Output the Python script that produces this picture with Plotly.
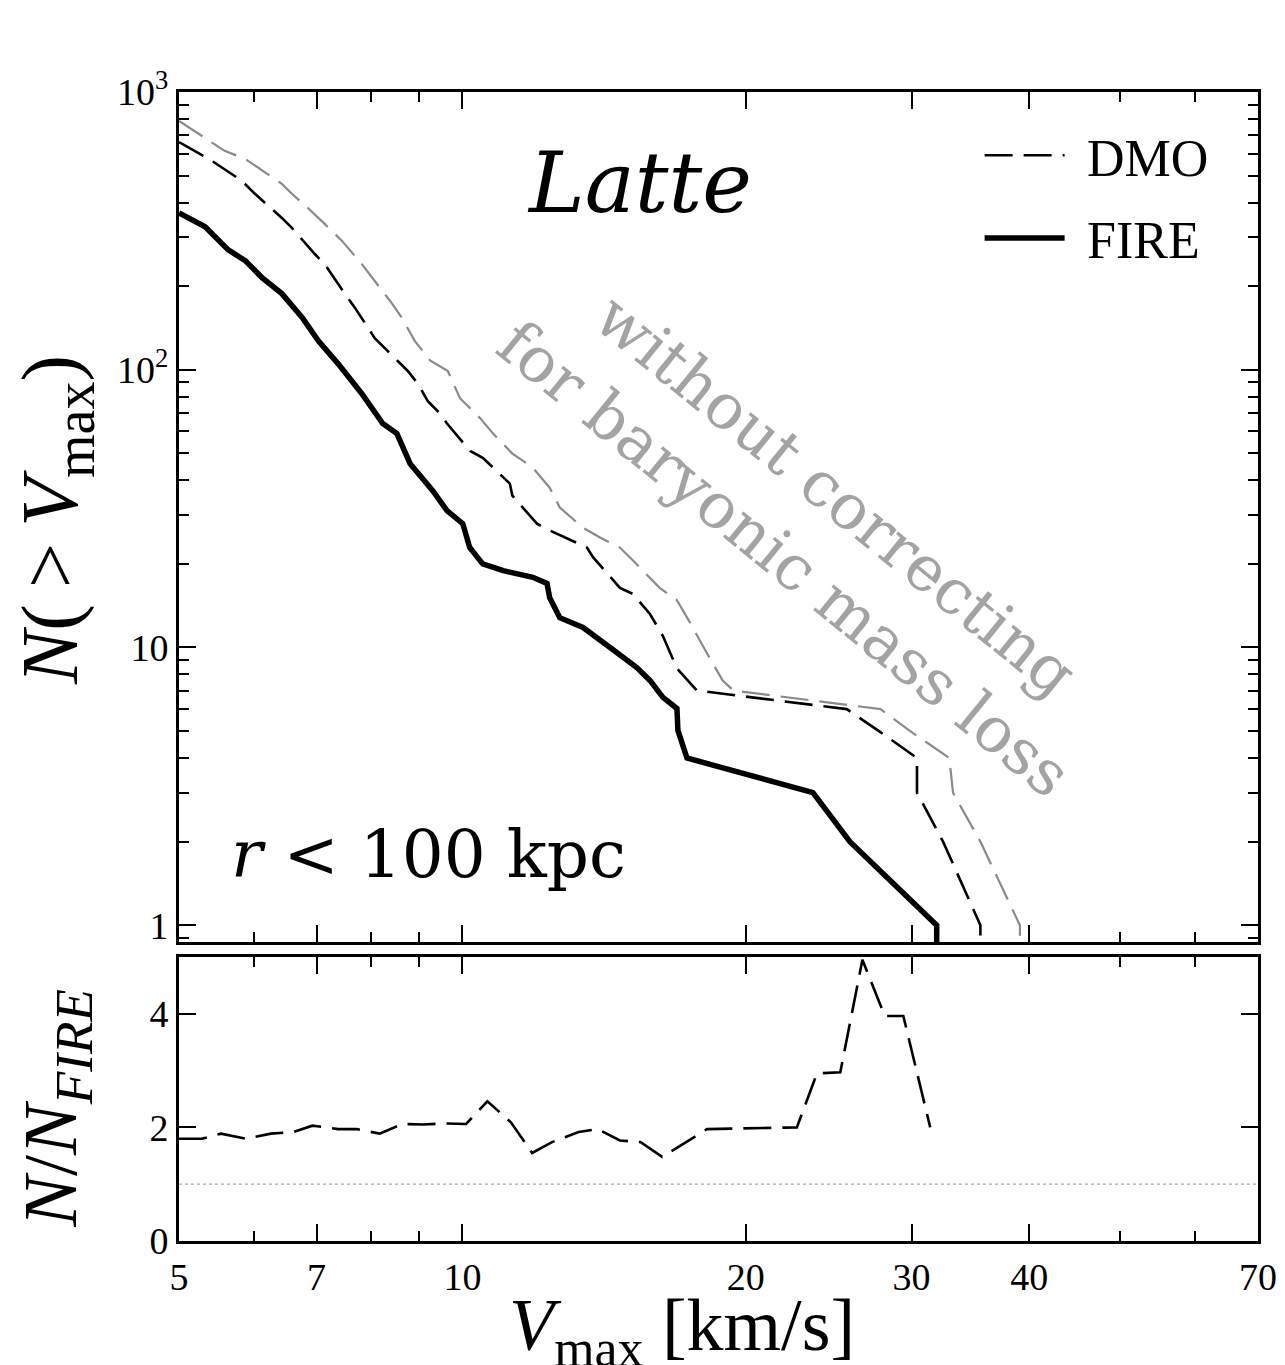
import numpy as np
import plotly.graph_objects as go

# ---------------- data ----------------
# FIRE (baryonic) cumulative Vmax function, r < 100 kpc
fire_v = [5.0, 5.33, 5.64, 5.88, 6.13, 6.43, 6.76, 7.03, 7.38, 7.82, 8.23, 8.52, 8.80,
          9.30, 9.63, 10.01, 10.18, 10.51, 11.05, 11.88, 12.30, 12.38, 12.69, 13.43,
          14.35, 15.32, 15.82, 16.33, 16.9, 16.94, 17.32, 23.57, 25.8, 31.9, 31.9]
fire_n = [367, 327, 270, 247, 214, 188, 154, 127, 105, 82, 64, 58.9, 45.9,
          36.7, 31.1, 27.9, 22.9, 20.0, 18.9, 17.9, 17.0, 15.1, 12.8, 11.8,
          10.0, 8.47, 7.61, 6.61, 6.03, 5.03, 4.0, 3.0, 2.0, 1.0, 0]

# DMO cumulative Vmax function
dmo_v = [5.0, 5.42, 5.83, 6.02, 6.43, 6.59, 6.97, 7.14, 7.50, 7.69, 8.07, 8.27, 8.75,
         8.97, 9.19, 9.47, 9.63, 10.19, 10.51, 11.23, 11.3, 12.0, 12.38, 13.56, 13.77,
         14.70, 15.17, 15.82, 16.33, 16.9, 17.74, 25.6, 27.7, 30.4, 30.4, 32.4, 35.5, 35.5]
dmo_n = [660, 565, 479, 430, 352, 324, 261, 240, 188, 167, 130, 120, 99,
         89, 77, 69.5, 64, 51, 48.2, 38.9, 35.2, 27.9, 26.4, 22.9, 21.1,
         16.4, 15.6, 13.2, 11.0, 8.4, 7.0, 6.0, 5.0, 4.0, 3.0, 2.0, 1.0, 0]

# DMO without correcting for baryonic mass loss
raw_v = [5.0, 5.33, 5.59, 5.88, 6.13, 6.43, 6.59, 6.85, 7.14, 7.45, 7.82, 8.07, 8.42,
         8.62, 8.90, 9.24, 9.65, 9.94, 10.44, 10.78, 11.3, 11.88, 12.38, 12.69, 13.43,
         14.0, 14.70, 15.17, 15.55, 16.2, 16.9, 17.4, 18.2, 18.9, 19.4, 27.8, 29.9,
         32.9, 33.2, 35.5, 39.1, 39.1]
raw_n = [787, 683, 614, 574, 520, 467, 430, 383, 335, 291, 240, 209, 173,
         154, 127, 108, 99, 79, 67, 58.9, 49.9, 44.4, 37.6, 31.9, 27.0,
         24.9, 22.9, 20.6, 18.9, 16.4, 14.8, 12.5, 9.5, 7.6, 7.0, 6.0, 5.0,
         4.0, 3.0, 2.0, 1.0, 0]

# Ratio N_DMO / N_FIRE
ratio_v = [5.0, 5.29, 5.54, 5.89, 6.26, 6.62, 6.93, 7.38, 7.72, 8.17, 8.63, 9.09, 9.54,
           10.09, 10.63, 11.26, 11.86, 12.45, 13.29, 13.93, 14.7, 15.47, 16.3, 18.19,
           22.66, 23.8, 25.2, 26.6, 28.1, 29.4, 31.4]
ratio_r = [1.80, 1.80, 1.89, 1.80, 1.89, 1.92, 2.03, 1.97, 1.97, 1.89, 2.06, 2.05, 2.07,
           2.06, 2.46, 2.09, 1.55, 1.74, 1.92, 1.97, 1.77, 1.74, 1.48, 1.97,
           2.0, 2.95, 2.97, 4.95, 3.96, 3.96, 2.0]

x_tickvals = [5, 7, 10, 20, 30, 40, 70]
x_ticktext = ["5", "7", "10", "20", "30", "40", "70"]
x_minor = [6, 8, 9, 50, 60]
y_tickvals = [1, 10, 100, 1000]
y_ticktext = ["1", "10", "10<sup>2</sup>", "10<sup>3</sup>"]
y_minor = [0.9] + [m * d for d in (1, 10, 100) for m in range(2, 10)]
r_tickvals = [0, 2, 4]

# ---------------- styling ----------------
FLOOR = 1e-2  # N = 0 drawn below the log axis (clipped)


def floor(a):
    a = np.asarray(a, dtype=float)
    return np.where(a > 0, a, FLOOR)


SERIF = "Liberation Serif, Times New Roman, serif"
ALT = "DejaVu Serif, serif"
TICKF = dict(family=SERIF, size=38, color="black")
GRAY_LINE = "#8a8a8a"
GRAY_TEXT = "#a3a3a3"
DASH = "28px,11px"

fig = go.Figure()

fig.add_trace(go.Scatter(x=raw_v, y=floor(raw_n), xaxis="x2", yaxis="y2", mode="lines",
                         line=dict(color=GRAY_LINE, width=2.2, dash=DASH),
                         showlegend=False, hoverinfo="skip"))
fig.add_trace(go.Scatter(x=dmo_v, y=floor(dmo_n), xaxis="x2", yaxis="y2", mode="lines",
                         name="\u2004DMO", legendgroup="a",
                         line=dict(color="black", width=2.6, dash=DASH)))
fig.add_trace(go.Scatter(x=fire_v, y=floor(fire_n), xaxis="x2", yaxis="y2", mode="lines",
                         name="\u2004FIRE", legendgroup="b",
                         line=dict(color="black", width=5.5)))
fig.add_trace(go.Scatter(x=ratio_v, y=ratio_r, xaxis="x", yaxis="y", mode="lines",
                         line=dict(color="black", width=2.6, dash=DASH),
                         showlegend=False))

axis_common = dict(showline=True, linecolor="black", linewidth=3, mirror="ticks",
                   ticks="inside", ticklen=17, tickwidth=2, tickcolor="black",
                   showgrid=False, zeroline=False, tickfont=TICKF)

top_dom = [0.2602, 1.0]
bot_dom = [0.0, 0.2472]

fig.update_layout(
    width=1285, height=1365,
    margin=dict(l=171, r=35, t=84, b=132),
    paper_bgcolor="white", plot_bgcolor="white",
    showlegend=True,
    legend=dict(x=0.742, y=0.98, xanchor="left", yanchor="top",
                font=dict(family=SERIF, size=52, color="black"),
                bgcolor="rgba(0,0,0,0)", traceorder="grouped", tracegroupgap=12,
                itemwidth=80),
    xaxis=dict(type="log", range=[np.log10(5), np.log10(70)], anchor="y",
               tickvals=x_tickvals, ticktext=x_ticktext,
               minor=dict(tickvals=x_minor, ticks="inside", ticklen=10, tickwidth=2,
                          tickcolor="black"),
               **axis_common),
    yaxis=dict(domain=bot_dom, range=[0, 5], anchor="x", tickvals=r_tickvals,
               **axis_common),
    xaxis2=dict(type="log", range=[np.log10(5), np.log10(70)], anchor="y2", matches="x",
                tickvals=x_tickvals, showticklabels=False,
                minor=dict(tickvals=x_minor, ticks="inside", ticklen=10, tickwidth=2,
                           tickcolor="black"),
                **axis_common),
    yaxis2=dict(domain=top_dom, type="log", range=[np.log10(0.87), 3], anchor="x2",
                tickvals=y_tickvals, ticktext=y_ticktext,
                minor=dict(tickvals=y_minor, ticks="inside", ticklen=10, tickwidth=2,
                           tickcolor="black"),
                **axis_common),
)

# reference line at ratio = 1
fig.add_shape(type="line", xref="x domain", yref="y", x0=0, x1=1, y0=1, y1=1,
              line=dict(color="#aaaaaa", width=1.3, dash="dot"))

C = dict(xref="paper", yref="paper", showarrow=False, xanchor="center", yanchor="middle")
ann = [
    dict(text="<i>Latte</i>", x=0.427, y=0.921,
         font=dict(family=ALT, size=84, color="black"), **C),
    dict(text="<i>r</i> < 100 kpc", x=0.231, y=0.336,
         font=dict(family=ALT, size=66, color="black"), **C),
    dict(text="without correcting<br>for baryonic mass loss", x=0.585, y=0.621,
         textangle=39, font=dict(family=ALT, size=63, color=GRAY_TEXT), **C),
    dict(text="<i>N</i>(\u2009>\u2009<i>V</i><sub>max</sub>)", x=-0.114, y=0.6275,
         textangle=-90, font=dict(family=SERIF, size=80, color="black"), **C),
    dict(text="<i>N</i>/<i>N</i><sub><i>FIRE</i></sub>", x=-0.114, y=0.116,
         textangle=-90, font=dict(family=SERIF, size=76, color="black"), **C),
    dict(text="<i>V</i><sub>max</sub> [km/s]", x=0.466, y=-0.078,
         font=dict(family=SERIF, size=74, color="black"), **C),
]
fig.update_layout(annotations=ann)

fig.write_html("out.html")
